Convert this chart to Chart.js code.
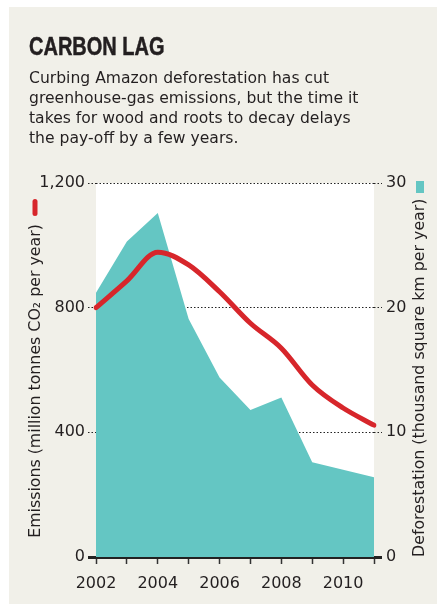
<!DOCTYPE html>
<html>
<head>
<meta charset="utf-8">
<script src="https://cdn.jsdelivr.net/npm/chart.js@4.4.1/dist/chart.umd.min.js"></script>
<style>
  html, body { margin: 0; padding: 0; background: #ffffff; }
  #wrap { position: relative; width: 437px; height: 604px; overflow: hidden; }
  #panel { position: absolute; left: 9px; top: 7px; right: 0; bottom: 0; background: #f1f0e9; }
  #chart { position: absolute; left: 0; top: 0; }
  #title { position: absolute; left: 29px; top: 34px; font-family: "Liberation Sans", Arial, sans-serif; font-weight: bold; font-size: 25px; line-height: 25px; color: #231f20; transform: scaleX(0.8); transform-origin: 0 0; white-space: nowrap; -webkit-text-stroke: 0.5px #231f20; }
  #sub { position: absolute; left: 29px; top: 67.8px; font-family: "DejaVu Sans", sans-serif; font-size: 15.6px; line-height: 20px; color: #231f20; white-space: nowrap; }
</style>
</head>
<body>
<div id="wrap">
  <div id="panel"></div>
  <canvas id="chart" width="437" height="604"></canvas>
  <div id="title">CARBON LAG</div>
  <div id="sub">Curbing Amazon deforestation has cut<br>greenhouse-gas emissions, but the time it<br>takes for wood and roots to decay delays<br>the pay-off by a few years.</div>
</div>
<script>
// ---- data ----
const years = ['2002','2003','2004','2005','2006','2007','2008','2009','2010','2011'];
const yearTickLabels = ['2002','','2004','','2006','','2008','','2010',''];
const emissions = [800, 886, 978, 937, 851, 750, 670, 552, 478, 423];       // million tonnes CO2 per year
const deforestation = [21.2, 25.3, 27.6, 19.1, 14.4, 11.8, 12.8, 7.6, 7.0, 6.4]; // thousand square km per year
const emissionTicks = [0, 400, 800, 1200];
const deforestationTicks = [0, 10, 20, 30];
const leftTitle = 'Emissions (million tonnes CO\u2082 per year)';
const rightTitle = 'Deforestation (thousand square km per year)';

const RED = '#d7262b';
const TEAL = '#64c6c3';
const INK = '#231f20';
const TICKFONT = { family: 'DejaVu Sans', size: 16 };

const decor = {
  id: 'decor',
  beforeDraw(chart) {
    const { ctx, chartArea: a } = chart;
    ctx.save();
    ctx.fillStyle = '#ffffff';
    ctx.fillRect(a.left, a.top, a.right - a.left, a.bottom - a.top);
    ctx.restore();
  },
  afterDraw(chart) {
    const { ctx, chartArea: a } = chart;
    ctx.save();
    ctx.fillStyle = INK;
    ctx.font = '15.8px "DejaVu Sans", sans-serif';
    // left title
    ctx.save();
    ctx.translate(36, 381);
    ctx.rotate(-Math.PI / 2);
    ctx.textAlign = 'center';
    ctx.textBaseline = 'middle';
    ctx.fillText(leftTitle, 0, 0);
    ctx.restore();
    // right title
    ctx.save();
    ctx.translate(420, a.bottom);
    ctx.rotate(-Math.PI / 2);
    ctx.textAlign = 'left';
    ctx.textBaseline = 'middle';
    ctx.fillText(rightTitle, 0, 0);
    ctx.restore();
    // legend keys
    ctx.strokeStyle = RED;
    ctx.lineWidth = 5;
    ctx.lineCap = 'round';
    ctx.beginPath();
    ctx.moveTo(35, a.top + 18.5);
    ctx.lineTo(35, a.top + 30.5);
    ctx.stroke();
    ctx.fillStyle = TEAL;
    ctx.fillRect(416, a.top - 2, 8, 12);
    ctx.restore();
  }
};

new Chart(document.getElementById('chart'), {
  type: 'line',
  data: {
    labels: years,
    datasets: [
      {
        label: 'Emissions',
        data: emissions,
        yAxisID: 'y',
        borderColor: RED,
        borderWidth: 5,
        borderCapStyle: 'round',
        borderJoinStyle: 'round',
        cubicInterpolationMode: 'monotone',
        pointRadius: 0,
        fill: false,
        order: 0
      },
      {
        label: 'Deforestation',
        data: deforestation,
        yAxisID: 'y1',
        borderWidth: 0,
        borderColor: TEAL,
        backgroundColor: TEAL,
        pointRadius: 0,
        tension: 0,
        fill: 'origin',
        order: 1
      }
    ]
  },
  options: {
    responsive: false,
    animation: false,
    devicePixelRatio: 1,
    layout: { padding: { top: 183, left: 0, right: 0, bottom: 0 } },
    plugins: { legend: { display: false }, tooltip: { enabled: false }, title: { display: false } },
    scales: {
      x: {
        type: 'category',
        offset: false,
        grid: { drawOnChartArea: false, drawTicks: true, tickLength: 7, tickWidth: 1.5, tickColor: '#333' },
        border: { display: false },
        ticks: {
          autoSkip: false, maxRotation: 0, minRotation: 0, padding: 10,
          color: INK, font: TICKFONT,
          callback: (v, i) => yearTickLabels[i]
        },
        afterFit: s => { s.height = 47; }
      },
      y: {
        position: 'left', min: 0, max: 1200,
        afterBuildTicks: s => { s.ticks = emissionTicks.map(v => ({ value: v })); },
        ticks: { color: INK, font: TICKFONT, padding: 3, callback: v => v.toLocaleString('en-US') },
        grid: {
          color: '#222',
          lineWidth: c => c.tick && c.tick.value === 0 ? 3 : 1,
          tickLength: 8,
          tickWidth: c => c.tick && c.tick.value === 0 ? 3 : 1,
          tickColor: '#222',
          tickBorderDash: c => c.tick && c.tick.value === 0 ? [] : [1.5, 2]
        },
        border: { display: false, dash: c => c.tick && c.tick.value === 0 ? [] : [1.5, 2] },
        afterFit: s => { s.width = 96; }
      },
      y1: {
        position: 'right', min: 0, max: 30,
        afterBuildTicks: s => { s.ticks = deforestationTicks.map(v => ({ value: v })); },
        ticks: { color: INK, font: TICKFONT, padding: 4 },
        grid: {
          drawOnChartArea: false,
          color: '#222',
          tickLength: 8,
          tickWidth: c => c.tick && c.tick.value === 0 ? 3 : 1,
          tickColor: '#222',
          tickBorderDash: c => c.tick && c.tick.value === 0 ? [] : [1.5, 2]
        },
        border: { display: false },
        afterFit: s => { s.width = 63; }
      }
    }
  },
  plugins: [decor]
});
</script>
</body>
</html>
